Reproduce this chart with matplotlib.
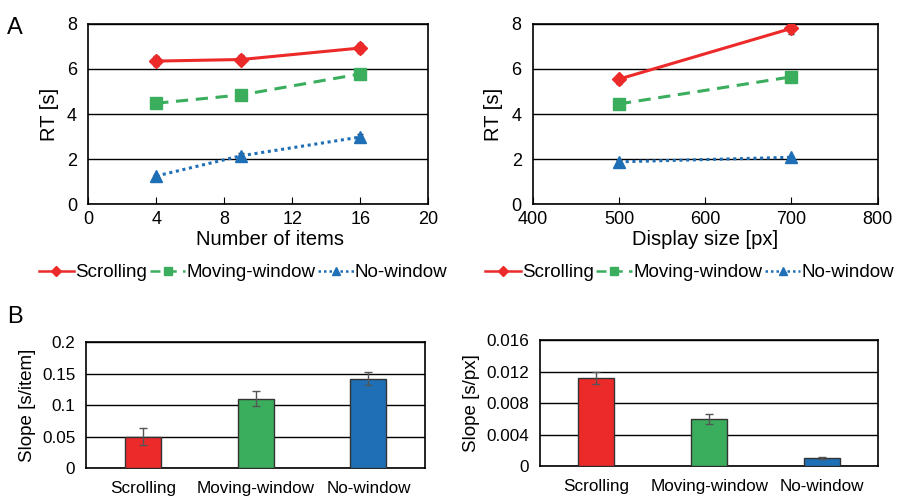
import matplotlib.pyplot as plt
from matplotlib.lines import Line2D

plt.rcParams['font.family'] = ['Liberation Sans', 'DejaVu Sans']

# panel A data
items = [4, 9, 16]
sizes = [500, 700]
rt_items = {
    "Scrolling": [6.35, 6.42, 6.93],
    "Moving-window": [4.48, 4.85, 5.78],
    "No-window": [1.25, 2.15, 2.98],
}
rt_items_err = {
    "Scrolling": [0.22, 0.2, 0.22],
    "Moving-window": [0.12, 0.14, 0.2],
    "No-window": [0.06, 0.1, 0.12],
}
rt_sizes = {
    "Scrolling": [5.55, 7.8],
    "Moving-window": [4.45, 5.65],
    "No-window": [1.88, 2.08],
}
rt_sizes_err = {
    "Scrolling": [0.2, 0.25],
    "Moving-window": [0.12, 0.2],
    "No-window": [0.06, 0.08],
}

# panel B data
conditions = ["Scrolling", "Moving-window", "No-window"]
slope_items = [0.050, 0.110, 0.142]
slope_items_err = [0.013, 0.012, 0.010]
slope_px = [0.0112, 0.0060, 0.0010]
slope_px_err = [0.0008, 0.0006, 0.0001]

colors = {"Scrolling": "#ec2a2a", "Moving-window": "#3aae5c", "No-window": "#1f6fb6"}
markers = {"Scrolling": "D", "Moving-window": "s", "No-window": "^"}
styles = {"Scrolling": "-", "Moving-window": (0, (4, 2.5)), "No-window": (0, (1, 1.2))}
msizes = {"Scrolling": 7, "Moving-window": 8, "No-window": 8}

fig = plt.figure(figsize=(9, 4.98), dpi=100)


def line_panel(rect, x, data, err, xlim, xticks, xlabel, label_x=0.5):
    ax = fig.add_axes(rect)
    for name in conditions:
        ax.errorbar(x, data[name], yerr=err[name], color=colors[name],
                    ecolor="#333333", elinewidth=1, capsize=2.5,
                    linestyle=styles[name], linewidth=2.2, marker=markers[name],
                    markersize=msizes[name], zorder=3)
    ax.set_xlim(*xlim)
    ax.set_ylim(0, 8)
    ax.set_xticks(xticks)
    ax.set_yticks([0, 2, 4, 6, 8])
    ax.yaxis.grid(True, color="black", linewidth=1)
    ax.set_axisbelow(True)
    ax.tick_params(axis="x", direction="in", length=5, labelsize=13, pad=5)
    ax.tick_params(axis="y", length=0, labelsize=13, pad=8)
    ax.set_xlabel(xlabel, fontsize=14.5, labelpad=1, x=label_x)
    ax.set_ylabel("RT [s]", fontsize=14.5, labelpad=6)
    for s in ax.spines.values():
        s.set_linewidth(1.2)
    handles = [Line2D([], [], color=colors[n], linestyle=styles[n], linewidth=1.8,
                      marker=markers[n], markersize=5.5) for n in conditions]
    ax.legend(handles, conditions, loc="upper center",
              bbox_to_anchor=(0.455, -0.29), ncol=3, frameon=False,
              fontsize=13.5, handlelength=1.9, handletextpad=0.05,
              columnspacing=0.15, borderaxespad=0)
    return ax


def bar_panel(rect, vals, err, yticks, ylabels, ylabel):
    ax = fig.add_axes(rect)
    xs = range(len(conditions))
    ax.bar(xs, vals, width=0.32, color=[colors[c] for c in conditions],
           edgecolor="#333333", linewidth=1, zorder=3)
    ax.errorbar(xs, vals, yerr=err, fmt="none", ecolor="#555555",
                elinewidth=1, capsize=3, zorder=4)
    ax.set_xlim(-0.5, 2.5)
    ax.set_ylim(yticks[0], yticks[-1])
    ax.set_yticks(yticks)
    ax.set_yticklabels(ylabels)
    ax.set_xticks(list(xs))
    ax.set_xticklabels(conditions)
    ax.yaxis.grid(True, color="black", linewidth=1)
    ax.set_axisbelow(True)
    ax.tick_params(axis="both", length=0, labelsize=12.3)
    ax.tick_params(axis="x", pad=9)
    ax.tick_params(axis="y", pad=8)
    ax.set_ylabel(ylabel, fontsize=13.5, labelpad=4)
    for s in ax.spines.values():
        s.set_linewidth(1.2)
    return ax


line_panel([0.098, 0.590, 0.378, 0.362], items, rt_items, rt_items_err,
           (0, 20), [0, 4, 8, 12, 16, 20], "Number of items", label_x=0.535)
line_panel([0.592, 0.590, 0.383, 0.362], sizes, rt_sizes, rt_sizes_err,
           (400, 800), [400, 500, 600, 700, 800], "Display size [px]")

bar_panel([0.096, 0.060, 0.376, 0.253], slope_items, slope_items_err,
          [0, 0.05, 0.1, 0.15, 0.2], ["0", "0.05", "0.1", "0.15", "0.2"],
          "Slope [s/item]")
bar_panel([0.600, 0.064, 0.376, 0.253], slope_px, slope_px_err,
          [0, 0.004, 0.008, 0.012, 0.016],
          ["0", "0.004", "0.008", "0.012", "0.016"], "Slope [s/px]")

fig.text(0.008, 0.965, "A", fontsize=17, va="top")
fig.text(0.008, 0.385, "B", fontsize=17, va="top")

fig.savefig("out.png", dpi=100)
